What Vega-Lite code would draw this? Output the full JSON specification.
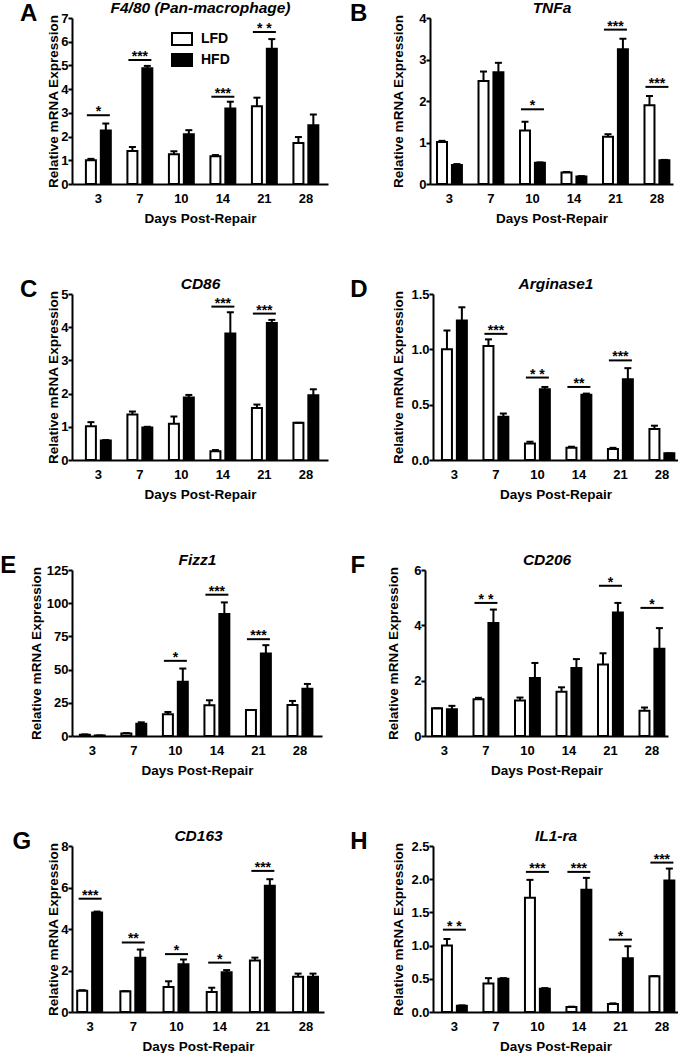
{
"$schema": "https://vega.github.io/schema/vega-lite/v6.json",
"background": "white",
"padding": {"left": 0, "top": 0, "right": 0, "bottom": 0},
"columns": 2,
"align": "none",
"spacing": {"row": 51, "column": 22},
"resolve": {"scale": {"fill": "independent"}, "legend": {"fill": "independent"}},
"datasets": {
"bars": [
{"panel":"A","day":3,"diet":"LFD","mean":1.0,"upper":1.06},{"panel":"A","day":3,"diet":"HFD","mean":2.26,"upper":2.55},
{"panel":"A","day":7,"diet":"LFD","mean":1.39,"upper":1.56},{"panel":"A","day":7,"diet":"HFD","mean":4.88,"upper":4.98},
{"panel":"A","day":10,"diet":"LFD","mean":1.25,"upper":1.38},{"panel":"A","day":10,"diet":"HFD","mean":2.1,"upper":2.27},
{"panel":"A","day":14,"diet":"LFD","mean":1.17,"upper":1.22},{"panel":"A","day":14,"diet":"HFD","mean":3.18,"upper":3.47},
{"panel":"A","day":21,"diet":"LFD","mean":3.28,"upper":3.64},{"panel":"A","day":21,"diet":"HFD","mean":5.7,"upper":6.11},
{"panel":"A","day":28,"diet":"LFD","mean":1.73,"upper":1.98},{"panel":"A","day":28,"diet":"HFD","mean":2.48,"upper":2.93},
{"panel":"B","day":3,"diet":"LFD","mean":1.01,"upper":1.04},{"panel":"B","day":3,"diet":"HFD","mean":0.46,"upper":0.48},
{"panel":"B","day":7,"diet":"LFD","mean":2.48,"upper":2.71},{"panel":"B","day":7,"diet":"HFD","mean":2.69,"upper":2.92},
{"panel":"B","day":10,"diet":"LFD","mean":1.29,"upper":1.5},{"panel":"B","day":10,"diet":"HFD","mean":0.51,"upper":0.52},
{"panel":"B","day":14,"diet":"LFD","mean":0.28,"upper":0.29},{"panel":"B","day":14,"diet":"HFD","mean":0.18,"upper":0.19},
{"panel":"B","day":21,"diet":"LFD","mean":1.14,"upper":1.2},{"panel":"B","day":21,"diet":"HFD","mean":3.25,"upper":3.5},
{"panel":"B","day":28,"diet":"LFD","mean":1.9,"upper":2.12},{"panel":"B","day":28,"diet":"HFD","mean":0.57,"upper":0.58},
{"panel":"C","day":3,"diet":"LFD","mean":1.02,"upper":1.14},{"panel":"C","day":3,"diet":"HFD","mean":0.59,"upper":0.6},
{"panel":"C","day":7,"diet":"LFD","mean":1.37,"upper":1.46},{"panel":"C","day":7,"diet":"HFD","mean":0.98,"upper":1.0},
{"panel":"C","day":10,"diet":"LFD","mean":1.09,"upper":1.31},{"panel":"C","day":10,"diet":"HFD","mean":1.88,"upper":1.96},
{"panel":"C","day":14,"diet":"LFD","mean":0.26,"upper":0.3},{"panel":"C","day":14,"diet":"HFD","mean":3.81,"upper":4.45},
{"panel":"C","day":21,"diet":"LFD","mean":1.57,"upper":1.67},{"panel":"C","day":21,"diet":"HFD","mean":4.13,"upper":4.22},
{"panel":"C","day":28,"diet":"LFD","mean":1.12,"upper":1.12},{"panel":"C","day":28,"diet":"HFD","mean":1.95,"upper":2.13},
{"panel":"D","day":3,"diet":"LFD","mean":1.0,"upper":1.17},{"panel":"D","day":3,"diet":"HFD","mean":1.26,"upper":1.38},
{"panel":"D","day":7,"diet":"LFD","mean":1.03,"upper":1.09},{"panel":"D","day":7,"diet":"HFD","mean":0.39,"upper":0.42},
{"panel":"D","day":10,"diet":"LFD","mean":0.15,"upper":0.165},{"panel":"D","day":10,"diet":"HFD","mean":0.64,"upper":0.66},
{"panel":"D","day":14,"diet":"LFD","mean":0.11,"upper":0.12},{"panel":"D","day":14,"diet":"HFD","mean":0.59,"upper":0.6},
{"panel":"D","day":21,"diet":"LFD","mean":0.1,"upper":0.11},{"panel":"D","day":21,"diet":"HFD","mean":0.73,"upper":0.83},
{"panel":"D","day":28,"diet":"LFD","mean":0.28,"upper":0.31},{"panel":"D","day":28,"diet":"HFD","mean":0.06,"upper":0.06},
{"panel":"E","day":3,"diet":"LFD","mean":1.0,"upper":1.2},{"panel":"E","day":3,"diet":"HFD","mean":0.4,"upper":0.4},
{"panel":"E","day":7,"diet":"LFD","mean":1.8,"upper":2.2},{"panel":"E","day":7,"diet":"HFD","mean":9.3,"upper":10.3},
{"panel":"E","day":10,"diet":"LFD","mean":16.3,"upper":18.1},{"panel":"E","day":10,"diet":"HFD","mean":40.8,"upper":50.8},
{"panel":"E","day":14,"diet":"LFD","mean":23.1,"upper":26.9},{"panel":"E","day":14,"diet":"HFD","mean":91.8,"upper":100.6},
{"panel":"E","day":21,"diet":"LFD","mean":19.6,"upper":19.6},{"panel":"E","day":21,"diet":"HFD","mean":62.1,"upper":68.4},
{"panel":"E","day":28,"diet":"LFD","mean":23.4,"upper":26.4},{"panel":"E","day":28,"diet":"HFD","mean":35.6,"upper":39.2},
{"panel":"F","day":3,"diet":"LFD","mean":1.0,"upper":1.0},{"panel":"F","day":3,"diet":"HFD","mean":0.97,"upper":1.09},
{"panel":"F","day":7,"diet":"LFD","mean":1.33,"upper":1.38},{"panel":"F","day":7,"diet":"HFD","mean":4.08,"upper":4.57},
{"panel":"F","day":10,"diet":"LFD","mean":1.28,"upper":1.39},{"panel":"F","day":10,"diet":"HFD","mean":2.1,"upper":2.64},
{"panel":"F","day":14,"diet":"LFD","mean":1.6,"upper":1.76},{"panel":"F","day":14,"diet":"HFD","mean":2.46,"upper":2.78},
{"panel":"F","day":21,"diet":"LFD","mean":2.58,"upper":2.99},{"panel":"F","day":21,"diet":"HFD","mean":4.46,"upper":4.81},
{"panel":"F","day":28,"diet":"LFD","mean":0.91,"upper":1.03},{"panel":"F","day":28,"diet":"HFD","mean":3.15,"upper":3.9},
{"panel":"G","day":3,"diet":"LFD","mean":1.02,"upper":1.05},{"panel":"G","day":3,"diet":"HFD","mean":4.79,"upper":4.84},
{"panel":"G","day":7,"diet":"LFD","mean":1.0,"upper":1.0},{"panel":"G","day":7,"diet":"HFD","mean":2.62,"upper":3.01},
{"panel":"G","day":10,"diet":"LFD","mean":1.2,"upper":1.48},{"panel":"G","day":10,"diet":"HFD","mean":2.3,"upper":2.53},
{"panel":"G","day":14,"diet":"LFD","mean":0.96,"upper":1.17},{"panel":"G","day":14,"diet":"HFD","mean":1.91,"upper":2.02},
{"panel":"G","day":21,"diet":"LFD","mean":2.48,"upper":2.62},{"panel":"G","day":21,"diet":"HFD","mean":6.09,"upper":6.4},
{"panel":"G","day":28,"diet":"LFD","mean":1.7,"upper":1.85},{"panel":"G","day":28,"diet":"HFD","mean":1.7,"upper":1.85},
{"panel":"H","day":3,"diet":"LFD","mean":1.0,"upper":1.1},{"panel":"H","day":3,"diet":"HFD","mean":0.095,"upper":0.1},
{"panel":"H","day":7,"diet":"LFD","mean":0.43,"upper":0.51},{"panel":"H","day":7,"diet":"HFD","mean":0.5,"upper":0.51},
{"panel":"H","day":10,"diet":"LFD","mean":1.72,"upper":1.99},{"panel":"H","day":10,"diet":"HFD","mean":0.35,"upper":0.36},
{"panel":"H","day":14,"diet":"LFD","mean":0.075,"upper":0.08},{"panel":"H","day":14,"diet":"HFD","mean":1.84,"upper":2.02},
{"panel":"H","day":21,"diet":"LFD","mean":0.12,"upper":0.13},{"panel":"H","day":21,"diet":"HFD","mean":0.81,"upper":0.99},
{"panel":"H","day":28,"diet":"LFD","mean":0.54,"upper":0.54},{"panel":"H","day":28,"diet":"HFD","mean":1.98,"upper":2.16}
],
"sig": [
{"panel":"A","day":3,"y":2.9,"label":"*"},{"panel":"A","day":7,"y":5.23,"label":"***"},{"panel":"A","day":14,"y":3.68,"label":"***"},{"panel":"A","day":21,"y":6.41,"label":"* *"},
{"panel":"B","day":10,"y":1.8,"label":"*"},{"panel":"B","day":21,"y":3.72,"label":"***"},{"panel":"B","day":28,"y":2.34,"label":"***"},
{"panel":"C","day":14,"y":4.62,"label":"***"},{"panel":"C","day":21,"y":4.41,"label":"***"},
{"panel":"D","day":7,"y":1.14,"label":"***"},{"panel":"D","day":10,"y":0.745,"label":"* *"},{"panel":"D","day":14,"y":0.66,"label":"**"},{"panel":"D","day":21,"y":0.9,"label":"***"},
{"panel":"E","day":10,"y":56.6,"label":"*"},{"panel":"E","day":14,"y":106.4,"label":"***"},{"panel":"E","day":21,"y":72.9,"label":"***"},
{"panel":"F","day":7,"y":4.81,"label":"* *"},{"panel":"F","day":21,"y":5.43,"label":"*"},{"panel":"F","day":28,"y":4.63,"label":"*"},
{"panel":"G","day":3,"y":5.46,"label":"***"},{"panel":"G","day":7,"y":3.35,"label":"**"},{"panel":"G","day":10,"y":2.79,"label":"*"},{"panel":"G","day":14,"y":2.38,"label":"*"},{"panel":"G","day":21,"y":6.8,"label":"***"},
{"panel":"H","day":3,"y":1.24,"label":"* *"},{"panel":"H","day":10,"y":2.11,"label":"***"},{"panel":"H","day":14,"y":2.11,"label":"***"},{"panel":"H","day":21,"y":1.09,"label":"*"},{"panel":"H","day":28,"y":2.25,"label":"***"}
]
},
"concat": [
{
"width": 256, "height": 166, "title": {"text": "A", "offset": -8},
"resolve": {"axis": {"x": "independent"}},
"layer": [
{"data": {"name": "bars"}, "transform": [{"filter": "datum.panel === 'A'"}],
 "mark": {"type": "bar", "stroke": "black", "strokeWidth": 2},
 "encoding": {
  "x": {"field": "day", "type": "ordinal", "scale": {"paddingInner": 0.4, "paddingOuter": 0.284, "align": 0.59}, "axis": {"title": "Days Post-Repair"}},
  "xOffset": {"field": "diet", "type": "nominal", "scale": {"domain": ["LFD", "HFD"], "paddingInner": 0.33}},
  "y": {"field": "mean", "type": "quantitative", "scale": {"domain": [0, 7], "nice": false}, "axis": {"values": [0,1,2,3,4,5,6,7], "format": "d", "title": "Relative mRNA Expression"}},
  "fill": {"field": "diet", "type": "nominal", "scale": {"domain": ["LFD", "HFD"], "range": ["white", "black"]},
   "legend": {"title": null, "orient": "none", "legendX": 99, "legendY": 10, "symbolType": "M-1,-0.6H1V0.6H-1Z", "symbolSize": 400, "symbolStrokeColor": "black", "symbolStrokeWidth": 2, "labelFontSize": 14, "labelFontWeight": "bold", "labelColor": "black", "labelOffset": 8, "rowPadding": -2}}
 }},
{"data": {"name": "bars"}, "transform": [{"filter": "datum.panel === 'A'"}],
 "mark": {"type": "rule", "strokeWidth": 2, "color": "black"},
 "encoding": {"x": {"field": "day", "type": "ordinal", "axis": null}, "xOffset": {"field": "diet", "type": "nominal"}, "y": {"field": "mean", "type": "quantitative", "axis": {"values": [0,1,2,3,4,5,6,7], "format": "d", "title": "Relative mRNA Expression"}}, "y2": {"field": "upper"}}},
{"data": {"name": "bars"}, "transform": [{"filter": "datum.panel === 'A'"}],
 "mark": {"type": "tick", "thickness": 2, "size": 7, "color": "black", "opacity": 1},
 "encoding": {"x": {"field": "day", "type": "ordinal", "axis": null}, "xOffset": {"field": "diet", "type": "nominal"}, "y": {"field": "upper", "type": "quantitative", "axis": {"values": [0,1,2,3,4,5,6,7], "format": "d", "title": "Relative mRNA Expression"}}}},
{"data": {"name": "sig"}, "transform": [{"filter": "datum.panel === 'A'"}],
 "mark": {"type": "tick", "thickness": 2, "size": 23, "color": "black", "opacity": 1},
 "encoding": {"x": {"field": "day", "type": "ordinal", "axis": {"orient": "top", "title": "F4/80 (Pan-macrophage)", "labels": false, "ticks": false, "domain": false, "titleFontStyle": "italic", "titleFontSize": 15.5, "titlePadding": 3}}, "y": {"field": "y", "type": "quantitative", "axis": {"values": [0,1,2,3,4,5,6,7], "format": "d", "title": "Relative mRNA Expression"}}}},
{"data": {"name": "sig"}, "transform": [{"filter": "datum.panel === 'A'"}],
 "mark": {"type": "text", "fontSize": 14, "fontWeight": "bold", "baseline": "alphabetic", "dy": 1, "color": "black"},
 "encoding": {"x": {"field": "day", "type": "ordinal", "axis": null}, "y": {"field": "y", "type": "quantitative", "axis": {"values": [0,1,2,3,4,5,6,7], "format": "d", "title": "Relative mRNA Expression"}}, "text": {"field": "label"}}}
]
},
{
"width": 243, "height": 166, "title": {"text": "B", "offset": 7},
"resolve": {"axis": {"x": "independent"}},
"layer": [
{"data": {"name": "bars"}, "transform": [{"filter": "datum.panel === 'B'"}],
 "mark": {"type": "bar", "stroke": "black", "strokeWidth": 2},
 "encoding": {
  "x": {"field": "day", "type": "ordinal", "scale": {"paddingInner": 0.4, "paddingOuter": 0.128, "align": 0.66}, "axis": {"title": "Days Post-Repair"}},
  "xOffset": {"field": "diet", "type": "nominal", "scale": {"domain": ["LFD", "HFD"], "paddingInner": 0.33}},
  "y": {"field": "mean", "type": "quantitative", "scale": {"domain": [0, 4], "nice": false}, "axis": {"values": [0,1,2,3,4], "format": "d", "title": "Relative mRNA Expression", "titlePadding": 13}},
  "fill": {"field": "diet", "type": "nominal", "scale": {"domain": ["LFD", "HFD"], "range": ["white", "black"]}, "legend": null}
 }},
{"data": {"name": "bars"}, "transform": [{"filter": "datum.panel === 'B'"}],
 "mark": {"type": "rule", "strokeWidth": 2, "color": "black"},
 "encoding": {"x": {"field": "day", "type": "ordinal", "axis": null}, "xOffset": {"field": "diet", "type": "nominal"}, "y": {"field": "mean", "type": "quantitative", "axis": {"values": [0,1,2,3,4], "format": "d", "title": "Relative mRNA Expression", "titlePadding": 13}}, "y2": {"field": "upper"}}},
{"data": {"name": "bars"}, "transform": [{"filter": "datum.panel === 'B'"}],
 "mark": {"type": "tick", "thickness": 2, "size": 7, "color": "black", "opacity": 1},
 "encoding": {"x": {"field": "day", "type": "ordinal", "axis": null}, "xOffset": {"field": "diet", "type": "nominal"}, "y": {"field": "upper", "type": "quantitative", "axis": {"values": [0,1,2,3,4], "format": "d", "title": "Relative mRNA Expression", "titlePadding": 13}}}},
{"data": {"name": "sig"}, "transform": [{"filter": "datum.panel === 'B'"}],
 "mark": {"type": "tick", "thickness": 2, "size": 23, "color": "black", "opacity": 1},
 "encoding": {"x": {"field": "day", "type": "ordinal", "axis": {"orient": "top", "title": "TNFa", "labels": false, "ticks": false, "domain": false, "titleFontStyle": "italic", "titleFontSize": 15.5, "titlePadding": 3}}, "y": {"field": "y", "type": "quantitative", "axis": {"values": [0,1,2,3,4], "format": "d", "title": "Relative mRNA Expression", "titlePadding": 13}}}},
{"data": {"name": "sig"}, "transform": [{"filter": "datum.panel === 'B'"}],
 "mark": {"type": "text", "fontSize": 14, "fontWeight": "bold", "baseline": "alphabetic", "dy": 1, "color": "black"},
 "encoding": {"x": {"field": "day", "type": "ordinal", "axis": null}, "y": {"field": "y", "type": "quantitative", "axis": {"values": [0,1,2,3,4], "format": "d", "title": "Relative mRNA Expression", "titlePadding": 13}}, "text": {"field": "label"}}}
]
},
{
"width": 256, "height": 166, "title": {"text": "C", "offset": -8},
"resolve": {"axis": {"x": "independent"}},
"layer": [
{"data": {"name": "bars"}, "transform": [{"filter": "datum.panel === 'C'"}],
 "mark": {"type": "bar", "stroke": "black", "strokeWidth": 2},
 "encoding": {
  "x": {"field": "day", "type": "ordinal", "scale": {"paddingInner": 0.4, "paddingOuter": 0.284, "align": 0.59}, "axis": {"title": "Days Post-Repair"}},
  "xOffset": {"field": "diet", "type": "nominal", "scale": {"domain": ["LFD", "HFD"], "paddingInner": 0.33}},
  "y": {"field": "mean", "type": "quantitative", "scale": {"domain": [0, 5], "nice": false}, "axis": {"values": [0,1,2,3,4,5], "format": "d", "title": "Relative mRNA Expression"}},
  "fill": {"field": "diet", "type": "nominal", "scale": {"domain": ["LFD", "HFD"], "range": ["white", "black"]}, "legend": null}
 }},
{"data": {"name": "bars"}, "transform": [{"filter": "datum.panel === 'C'"}],
 "mark": {"type": "rule", "strokeWidth": 2, "color": "black"},
 "encoding": {"x": {"field": "day", "type": "ordinal", "axis": null}, "xOffset": {"field": "diet", "type": "nominal"}, "y": {"field": "mean", "type": "quantitative", "axis": {"values": [0,1,2,3,4,5], "format": "d", "title": "Relative mRNA Expression"}}, "y2": {"field": "upper"}}},
{"data": {"name": "bars"}, "transform": [{"filter": "datum.panel === 'C'"}],
 "mark": {"type": "tick", "thickness": 2, "size": 7, "color": "black", "opacity": 1},
 "encoding": {"x": {"field": "day", "type": "ordinal", "axis": null}, "xOffset": {"field": "diet", "type": "nominal"}, "y": {"field": "upper", "type": "quantitative", "axis": {"values": [0,1,2,3,4,5], "format": "d", "title": "Relative mRNA Expression"}}}},
{"data": {"name": "sig"}, "transform": [{"filter": "datum.panel === 'C'"}],
 "mark": {"type": "tick", "thickness": 2, "size": 23, "color": "black", "opacity": 1},
 "encoding": {"x": {"field": "day", "type": "ordinal", "axis": {"orient": "top", "title": "CD86", "labels": false, "ticks": false, "domain": false, "titleFontStyle": "italic", "titleFontSize": 15.5, "titlePadding": 3}}, "y": {"field": "y", "type": "quantitative", "axis": {"values": [0,1,2,3,4,5], "format": "d", "title": "Relative mRNA Expression"}}}},
{"data": {"name": "sig"}, "transform": [{"filter": "datum.panel === 'C'"}],
 "mark": {"type": "text", "fontSize": 14, "fontWeight": "bold", "baseline": "alphabetic", "dy": 1, "color": "black"},
 "encoding": {"x": {"field": "day", "type": "ordinal", "axis": null}, "y": {"field": "y", "type": "quantitative", "axis": {"values": [0,1,2,3,4,5], "format": "d", "title": "Relative mRNA Expression"}}, "text": {"field": "label"}}}
]
},
{
"width": 245, "height": 166, "title": {"text": "D", "offset": 7},
"resolve": {"axis": {"x": "independent"}},
"layer": [
{"data": {"name": "bars"}, "transform": [{"filter": "datum.panel === 'D'"}],
 "mark": {"type": "bar", "stroke": "black", "strokeWidth": 2},
 "encoding": {
  "x": {"field": "day", "type": "ordinal", "scale": {"paddingInner": 0.4, "paddingOuter": 0.152, "align": 0.71}, "axis": {"title": "Days Post-Repair"}},
  "xOffset": {"field": "diet", "type": "nominal", "scale": {"domain": ["LFD", "HFD"], "paddingInner": 0.33}},
  "y": {"field": "mean", "type": "quantitative", "scale": {"domain": [0, 1.5], "nice": false}, "axis": {"values": [0,0.5,1,1.5], "format": ".1f", "title": "Relative mRNA Expression", "titlePadding": 5}},
  "fill": {"field": "diet", "type": "nominal", "scale": {"domain": ["LFD", "HFD"], "range": ["white", "black"]}, "legend": null}
 }},
{"data": {"name": "bars"}, "transform": [{"filter": "datum.panel === 'D'"}],
 "mark": {"type": "rule", "strokeWidth": 2, "color": "black"},
 "encoding": {"x": {"field": "day", "type": "ordinal", "axis": null}, "xOffset": {"field": "diet", "type": "nominal"}, "y": {"field": "mean", "type": "quantitative", "axis": {"values": [0,0.5,1,1.5], "format": ".1f", "title": "Relative mRNA Expression", "titlePadding": 5}}, "y2": {"field": "upper"}}},
{"data": {"name": "bars"}, "transform": [{"filter": "datum.panel === 'D'"}],
 "mark": {"type": "tick", "thickness": 2, "size": 7, "color": "black", "opacity": 1},
 "encoding": {"x": {"field": "day", "type": "ordinal", "axis": null}, "xOffset": {"field": "diet", "type": "nominal"}, "y": {"field": "upper", "type": "quantitative", "axis": {"values": [0,0.5,1,1.5], "format": ".1f", "title": "Relative mRNA Expression", "titlePadding": 5}}}},
{"data": {"name": "sig"}, "transform": [{"filter": "datum.panel === 'D'"}],
 "mark": {"type": "tick", "thickness": 2, "size": 23, "color": "black", "opacity": 1},
 "encoding": {"x": {"field": "day", "type": "ordinal", "axis": {"orient": "top", "title": "Arginase1", "labels": false, "ticks": false, "domain": false, "titleFontStyle": "italic", "titleFontSize": 15.5, "titlePadding": 3}}, "y": {"field": "y", "type": "quantitative", "axis": {"values": [0,0.5,1,1.5], "format": ".1f", "title": "Relative mRNA Expression", "titlePadding": 5}}}},
{"data": {"name": "sig"}, "transform": [{"filter": "datum.panel === 'D'"}],
 "mark": {"type": "text", "fontSize": 14, "fontWeight": "bold", "baseline": "alphabetic", "dy": 1, "color": "black"},
 "encoding": {"x": {"field": "day", "type": "ordinal", "axis": null}, "y": {"field": "y", "type": "quantitative", "axis": {"values": [0,0.5,1,1.5], "format": ".1f", "title": "Relative mRNA Expression", "titlePadding": 5}}, "text": {"field": "label"}}}
]
},
{
"width": 250, "height": 166, "title": "E",
"resolve": {"axis": {"x": "independent"}},
"layer": [
{"data": {"name": "bars"}, "transform": [{"filter": "datum.panel === 'E'"}],
 "mark": {"type": "bar", "stroke": "black", "strokeWidth": 2},
 "encoding": {
  "x": {"field": "day", "type": "ordinal", "scale": {"paddingInner": 0.4, "paddingOuter": 0.21, "align": 0.45}, "axis": {"title": "Days Post-Repair"}},
  "xOffset": {"field": "diet", "type": "nominal", "scale": {"domain": ["LFD", "HFD"], "paddingInner": 0.33}},
  "y": {"field": "mean", "type": "quantitative", "scale": {"domain": [0, 125], "nice": false}, "axis": {"values": [0,25,50,75,100,125], "format": "d", "title": "Relative mRNA Expression", "titlePadding": 3}},
  "fill": {"field": "diet", "type": "nominal", "scale": {"domain": ["LFD", "HFD"], "range": ["white", "black"]}, "legend": null}
 }},
{"data": {"name": "bars"}, "transform": [{"filter": "datum.panel === 'E'"}],
 "mark": {"type": "rule", "strokeWidth": 2, "color": "black"},
 "encoding": {"x": {"field": "day", "type": "ordinal", "axis": null}, "xOffset": {"field": "diet", "type": "nominal"}, "y": {"field": "mean", "type": "quantitative", "axis": {"values": [0,25,50,75,100,125], "format": "d", "title": "Relative mRNA Expression", "titlePadding": 3}}, "y2": {"field": "upper"}}},
{"data": {"name": "bars"}, "transform": [{"filter": "datum.panel === 'E'"}],
 "mark": {"type": "tick", "thickness": 2, "size": 7, "color": "black", "opacity": 1},
 "encoding": {"x": {"field": "day", "type": "ordinal", "axis": null}, "xOffset": {"field": "diet", "type": "nominal"}, "y": {"field": "upper", "type": "quantitative", "axis": {"values": [0,25,50,75,100,125], "format": "d", "title": "Relative mRNA Expression", "titlePadding": 3}}}},
{"data": {"name": "sig"}, "transform": [{"filter": "datum.panel === 'E'"}],
 "mark": {"type": "tick", "thickness": 2, "size": 23, "color": "black", "opacity": 1},
 "encoding": {"x": {"field": "day", "type": "ordinal", "axis": {"orient": "top", "title": "Fizz1", "labels": false, "ticks": false, "domain": false, "titleFontStyle": "italic", "titleFontSize": 15.5, "titlePadding": 3}}, "y": {"field": "y", "type": "quantitative", "axis": {"values": [0,25,50,75,100,125], "format": "d", "title": "Relative mRNA Expression", "titlePadding": 3}}}},
{"data": {"name": "sig"}, "transform": [{"filter": "datum.panel === 'E'"}],
 "mark": {"type": "text", "fontSize": 14, "fontWeight": "bold", "baseline": "alphabetic", "dy": 1, "color": "black"},
 "encoding": {"x": {"field": "day", "type": "ordinal", "axis": null}, "y": {"field": "y", "type": "quantitative", "axis": {"values": [0,25,50,75,100,125], "format": "d", "title": "Relative mRNA Expression", "titlePadding": 3}}, "text": {"field": "label"}}}
]
},
{
"width": 243, "height": 166, "title": {"text": "F", "offset": 7},
"resolve": {"axis": {"x": "independent"}},
"layer": [
{"data": {"name": "bars"}, "transform": [{"filter": "datum.panel === 'F'"}],
 "mark": {"type": "bar", "stroke": "black", "strokeWidth": 2},
 "encoding": {
  "x": {"field": "day", "type": "ordinal", "scale": {"paddingInner": 0.4, "paddingOuter": 0.128, "align": 0.66}, "axis": {"title": "Days Post-Repair"}},
  "xOffset": {"field": "diet", "type": "nominal", "scale": {"domain": ["LFD", "HFD"], "paddingInner": 0.33}},
  "y": {"field": "mean", "type": "quantitative", "scale": {"domain": [0, 6], "nice": false}, "axis": {"values": [0,2,4,6], "format": "d", "title": "Relative mRNA Expression", "titlePadding": 13}},
  "fill": {"field": "diet", "type": "nominal", "scale": {"domain": ["LFD", "HFD"], "range": ["white", "black"]}, "legend": null}
 }},
{"data": {"name": "bars"}, "transform": [{"filter": "datum.panel === 'F'"}],
 "mark": {"type": "rule", "strokeWidth": 2, "color": "black"},
 "encoding": {"x": {"field": "day", "type": "ordinal", "axis": null}, "xOffset": {"field": "diet", "type": "nominal"}, "y": {"field": "mean", "type": "quantitative", "axis": {"values": [0,2,4,6], "format": "d", "title": "Relative mRNA Expression", "titlePadding": 13}}, "y2": {"field": "upper"}}},
{"data": {"name": "bars"}, "transform": [{"filter": "datum.panel === 'F'"}],
 "mark": {"type": "tick", "thickness": 2, "size": 7, "color": "black", "opacity": 1},
 "encoding": {"x": {"field": "day", "type": "ordinal", "axis": null}, "xOffset": {"field": "diet", "type": "nominal"}, "y": {"field": "upper", "type": "quantitative", "axis": {"values": [0,2,4,6], "format": "d", "title": "Relative mRNA Expression", "titlePadding": 13}}}},
{"data": {"name": "sig"}, "transform": [{"filter": "datum.panel === 'F'"}],
 "mark": {"type": "tick", "thickness": 2, "size": 23, "color": "black", "opacity": 1},
 "encoding": {"x": {"field": "day", "type": "ordinal", "axis": {"orient": "top", "title": "CD206", "labels": false, "ticks": false, "domain": false, "titleFontStyle": "italic", "titleFontSize": 15.5, "titlePadding": 3}}, "y": {"field": "y", "type": "quantitative", "axis": {"values": [0,2,4,6], "format": "d", "title": "Relative mRNA Expression", "titlePadding": 13}}}},
{"data": {"name": "sig"}, "transform": [{"filter": "datum.panel === 'F'"}],
 "mark": {"type": "text", "fontSize": 14, "fontWeight": "bold", "baseline": "alphabetic", "dy": 1, "color": "black"},
 "encoding": {"x": {"field": "day", "type": "ordinal", "axis": null}, "y": {"field": "y", "type": "quantitative", "axis": {"values": [0,2,4,6], "format": "d", "title": "Relative mRNA Expression", "titlePadding": 13}}, "text": {"field": "label"}}}
]
},
{
"width": 252, "height": 166, "title": "G",
"resolve": {"axis": {"x": "independent"}},
"layer": [
{"data": {"name": "bars"}, "transform": [{"filter": "datum.panel === 'G'"}],
 "mark": {"type": "bar", "stroke": "black", "strokeWidth": 2},
 "encoding": {
  "x": {"field": "day", "type": "ordinal", "scale": {"paddingInner": 0.4, "paddingOuter": 0.118, "align": 0.51}, "axis": {"title": "Days Post-Repair"}},
  "xOffset": {"field": "diet", "type": "nominal", "scale": {"domain": ["LFD", "HFD"], "paddingInner": 0.33}},
  "y": {"field": "mean", "type": "quantitative", "scale": {"domain": [0, 8], "nice": false}, "axis": {"values": [0,2,4,6,8], "format": "d", "title": "Relative mRNA Expression"}},
  "fill": {"field": "diet", "type": "nominal", "scale": {"domain": ["LFD", "HFD"], "range": ["white", "black"]}, "legend": null}
 }},
{"data": {"name": "bars"}, "transform": [{"filter": "datum.panel === 'G'"}],
 "mark": {"type": "rule", "strokeWidth": 2, "color": "black"},
 "encoding": {"x": {"field": "day", "type": "ordinal", "axis": null}, "xOffset": {"field": "diet", "type": "nominal"}, "y": {"field": "mean", "type": "quantitative", "axis": {"values": [0,2,4,6,8], "format": "d", "title": "Relative mRNA Expression"}}, "y2": {"field": "upper"}}},
{"data": {"name": "bars"}, "transform": [{"filter": "datum.panel === 'G'"}],
 "mark": {"type": "tick", "thickness": 2, "size": 7, "color": "black", "opacity": 1},
 "encoding": {"x": {"field": "day", "type": "ordinal", "axis": null}, "xOffset": {"field": "diet", "type": "nominal"}, "y": {"field": "upper", "type": "quantitative", "axis": {"values": [0,2,4,6,8], "format": "d", "title": "Relative mRNA Expression"}}}},
{"data": {"name": "sig"}, "transform": [{"filter": "datum.panel === 'G'"}],
 "mark": {"type": "tick", "thickness": 2, "size": 23, "color": "black", "opacity": 1},
 "encoding": {"x": {"field": "day", "type": "ordinal", "axis": {"orient": "top", "title": "CD163", "labels": false, "ticks": false, "domain": false, "titleFontStyle": "italic", "titleFontSize": 15.5, "titlePadding": 3}}, "y": {"field": "y", "type": "quantitative", "axis": {"values": [0,2,4,6,8], "format": "d", "title": "Relative mRNA Expression"}}}},
{"data": {"name": "sig"}, "transform": [{"filter": "datum.panel === 'G'"}],
 "mark": {"type": "text", "fontSize": 14, "fontWeight": "bold", "baseline": "alphabetic", "dy": 1, "color": "black"},
 "encoding": {"x": {"field": "day", "type": "ordinal", "axis": null}, "y": {"field": "y", "type": "quantitative", "axis": {"values": [0,2,4,6,8], "format": "d", "title": "Relative mRNA Expression"}}, "text": {"field": "label"}}}
]
},
{
"width": 245, "height": 166, "title": {"text": "H", "offset": 7},
"resolve": {"axis": {"x": "independent"}},
"layer": [
{"data": {"name": "bars"}, "transform": [{"filter": "datum.panel === 'H'"}],
 "mark": {"type": "bar", "stroke": "black", "strokeWidth": 2},
 "encoding": {
  "x": {"field": "day", "type": "ordinal", "scale": {"paddingInner": 0.4, "paddingOuter": 0.152, "align": 0.71}, "axis": {"title": "Days Post-Repair"}},
  "xOffset": {"field": "diet", "type": "nominal", "scale": {"domain": ["LFD", "HFD"], "paddingInner": 0.33}},
  "y": {"field": "mean", "type": "quantitative", "scale": {"domain": [0, 2.5], "nice": false}, "axis": {"values": [0,0.5,1,1.5,2,2.5], "format": ".1f", "title": "Relative mRNA Expression", "titlePadding": 5}},
  "fill": {"field": "diet", "type": "nominal", "scale": {"domain": ["LFD", "HFD"], "range": ["white", "black"]}, "legend": null}
 }},
{"data": {"name": "bars"}, "transform": [{"filter": "datum.panel === 'H'"}],
 "mark": {"type": "rule", "strokeWidth": 2, "color": "black"},
 "encoding": {"x": {"field": "day", "type": "ordinal", "axis": null}, "xOffset": {"field": "diet", "type": "nominal"}, "y": {"field": "mean", "type": "quantitative", "axis": {"values": [0,0.5,1,1.5,2,2.5], "format": ".1f", "title": "Relative mRNA Expression", "titlePadding": 5}}, "y2": {"field": "upper"}}},
{"data": {"name": "bars"}, "transform": [{"filter": "datum.panel === 'H'"}],
 "mark": {"type": "tick", "thickness": 2, "size": 7, "color": "black", "opacity": 1},
 "encoding": {"x": {"field": "day", "type": "ordinal", "axis": null}, "xOffset": {"field": "diet", "type": "nominal"}, "y": {"field": "upper", "type": "quantitative", "axis": {"values": [0,0.5,1,1.5,2,2.5], "format": ".1f", "title": "Relative mRNA Expression", "titlePadding": 5}}}},
{"data": {"name": "sig"}, "transform": [{"filter": "datum.panel === 'H'"}],
 "mark": {"type": "tick", "thickness": 2, "size": 23, "color": "black", "opacity": 1},
 "encoding": {"x": {"field": "day", "type": "ordinal", "axis": {"orient": "top", "title": "IL1-ra", "labels": false, "ticks": false, "domain": false, "titleFontStyle": "italic", "titleFontSize": 15.5, "titlePadding": 3}}, "y": {"field": "y", "type": "quantitative", "axis": {"values": [0,0.5,1,1.5,2,2.5], "format": ".1f", "title": "Relative mRNA Expression", "titlePadding": 5}}}},
{"data": {"name": "sig"}, "transform": [{"filter": "datum.panel === 'H'"}],
 "mark": {"type": "text", "fontSize": 14, "fontWeight": "bold", "baseline": "alphabetic", "dy": 1, "color": "black"},
 "encoding": {"x": {"field": "day", "type": "ordinal", "axis": null}, "y": {"field": "y", "type": "quantitative", "axis": {"values": [0,0.5,1,1.5,2,2.5], "format": ".1f", "title": "Relative mRNA Expression", "titlePadding": 5}}, "text": {"field": "label"}}}
]
}
],
"config": {
 "font": "Liberation Sans",
 "view": {"stroke": null},
 "title": {"fontSize": 24, "fontWeight": "bold", "color": "black", "orient": "left", "anchor": "end", "angle": 0, "align": "right", "baseline": "middle", "frame": "group", "offset": -3, "dy": -16},
 "axis": {"grid": false, "domainColor": "black", "domainWidth": 2, "tickColor": "black", "tickWidth": 2, "tickSize": 4, "labelFont": "Liberation Sans", "labelFontSize": 13, "labelFontWeight": "bold", "labelColor": "black", "titleFont": "Liberation Sans", "titleFontSize": 13.5, "titleFontWeight": "bold", "titleColor": "black"},
 "axisX": {"ticks": false, "labelAngle": 0, "labelPadding": 8, "titlePadding": 6},
 "axisY": {"labelPadding": 0, "titlePadding": 0}
}
}
